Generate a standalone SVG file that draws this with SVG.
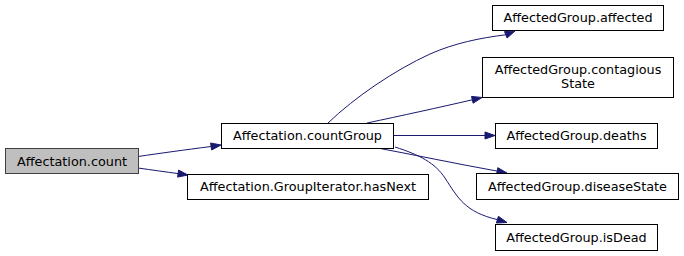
<svg xmlns="http://www.w3.org/2000/svg" width="684" height="256" viewBox="0 0 684 256">
  <style>
    .node rect { fill: #ffffff; stroke: #000000; stroke-width: 1; }
    .node.root rect { fill: #bfbfbf; stroke: #404040; }
    .node text { font-family: "DejaVu Sans", sans-serif; font-size: 12.8px; fill: #000000; text-anchor: middle; }
    .edge path { fill: none; stroke: #191970; stroke-width: 1; }
    .edge polygon { fill: #191970; stroke: #191970; stroke-width: 1; }
  </style>
  <rect width="684" height="256" fill="#ffffff"/>

  <!-- call edges -->
  <g id="edges">
    <g class="edge">
      <path d="M138,156.5 C160,153.3 185,149.8 211.1,146.5"/>
      <polygon points="221,145 211.6,150 210.6,143"/>
    </g>
    <g class="edge">
      <path d="M138,168 C152,170 165,171.8 178.1,173.6"/>
      <polygon points="188,175 177.6,177.1 178.6,170.1"/>
    </g>
    <g class="edge">
      <path d="M328,123 C355,97 395,70 430,54 C455,43 480,38 505.8,34.8"/>
      <polygon points="515,31 507.1,38 504.5,31.6"/>
    </g>
    <g class="edge">
      <path d="M367,123 C400,116 440,107.3 472.3,99.8"/>
      <polygon points="482,97.5 473.1,103.2 471.5,96.4"/>
    </g>
    <g class="edge">
      <path d="M393,135.5 H485"/>
      <polygon points="495,135.5 485,139 485,132"/>
    </g>
    <g class="edge">
      <path d="M375,147.5 C415,155 455,163.5 497.2,171.1"/>
      <polygon points="507,173 496.5,174.5 497.8,167.7"/>
    </g>
    <g class="edge">
      <path d="M395,147 C420,155 435,163 445,178 C458,198 465,212 497.4,219.6"/>
      <polygon points="507,222.5 496.4,223 498.4,216.3"/>
    </g>
  </g>

  <g id="node-count" class="node root">
    <rect x="5.5" y="148.5" width="133" height="25"/>
    <text x="72" y="165.5">Affectation.count</text>
  </g>
  <g id="node-countGroup" class="node">
    <rect x="221.5" y="123.5" width="172" height="25"/>
    <text x="307.5" y="140">Affectation.countGroup</text>
  </g>
  <g id="node-hasNext" class="node">
    <rect x="187.5" y="174.5" width="241" height="25"/>
    <text x="308" y="191">Affectation.GroupIterator.hasNext</text>
  </g>
  <g id="node-affected" class="node">
    <rect x="492.5" y="5.5" width="171" height="25"/>
    <text x="578" y="22">AffectedGroup.affected</text>
  </g>
  <g id="node-contagiousState" class="node">
    <rect x="482.5" y="57.5" width="191" height="40"/>
    <text x="578" y="74">AffectedGroup.contagious</text>
    <text x="578" y="87.5">State</text>
  </g>
  <g id="node-deaths" class="node">
    <rect x="495.5" y="123.5" width="162" height="25"/>
    <text x="576.5" y="140">AffectedGroup.deaths</text>
  </g>
  <g id="node-diseaseState" class="node">
    <rect x="476.5" y="173.5" width="202" height="26"/>
    <text x="577.5" y="191">AffectedGroup.diseaseState</text>
  </g>
  <g id="node-isDead" class="node">
    <rect x="495.5" y="224.5" width="162" height="26"/>
    <text x="576.5" y="242">AffectedGroup.isDead</text>
  </g>
</svg>
